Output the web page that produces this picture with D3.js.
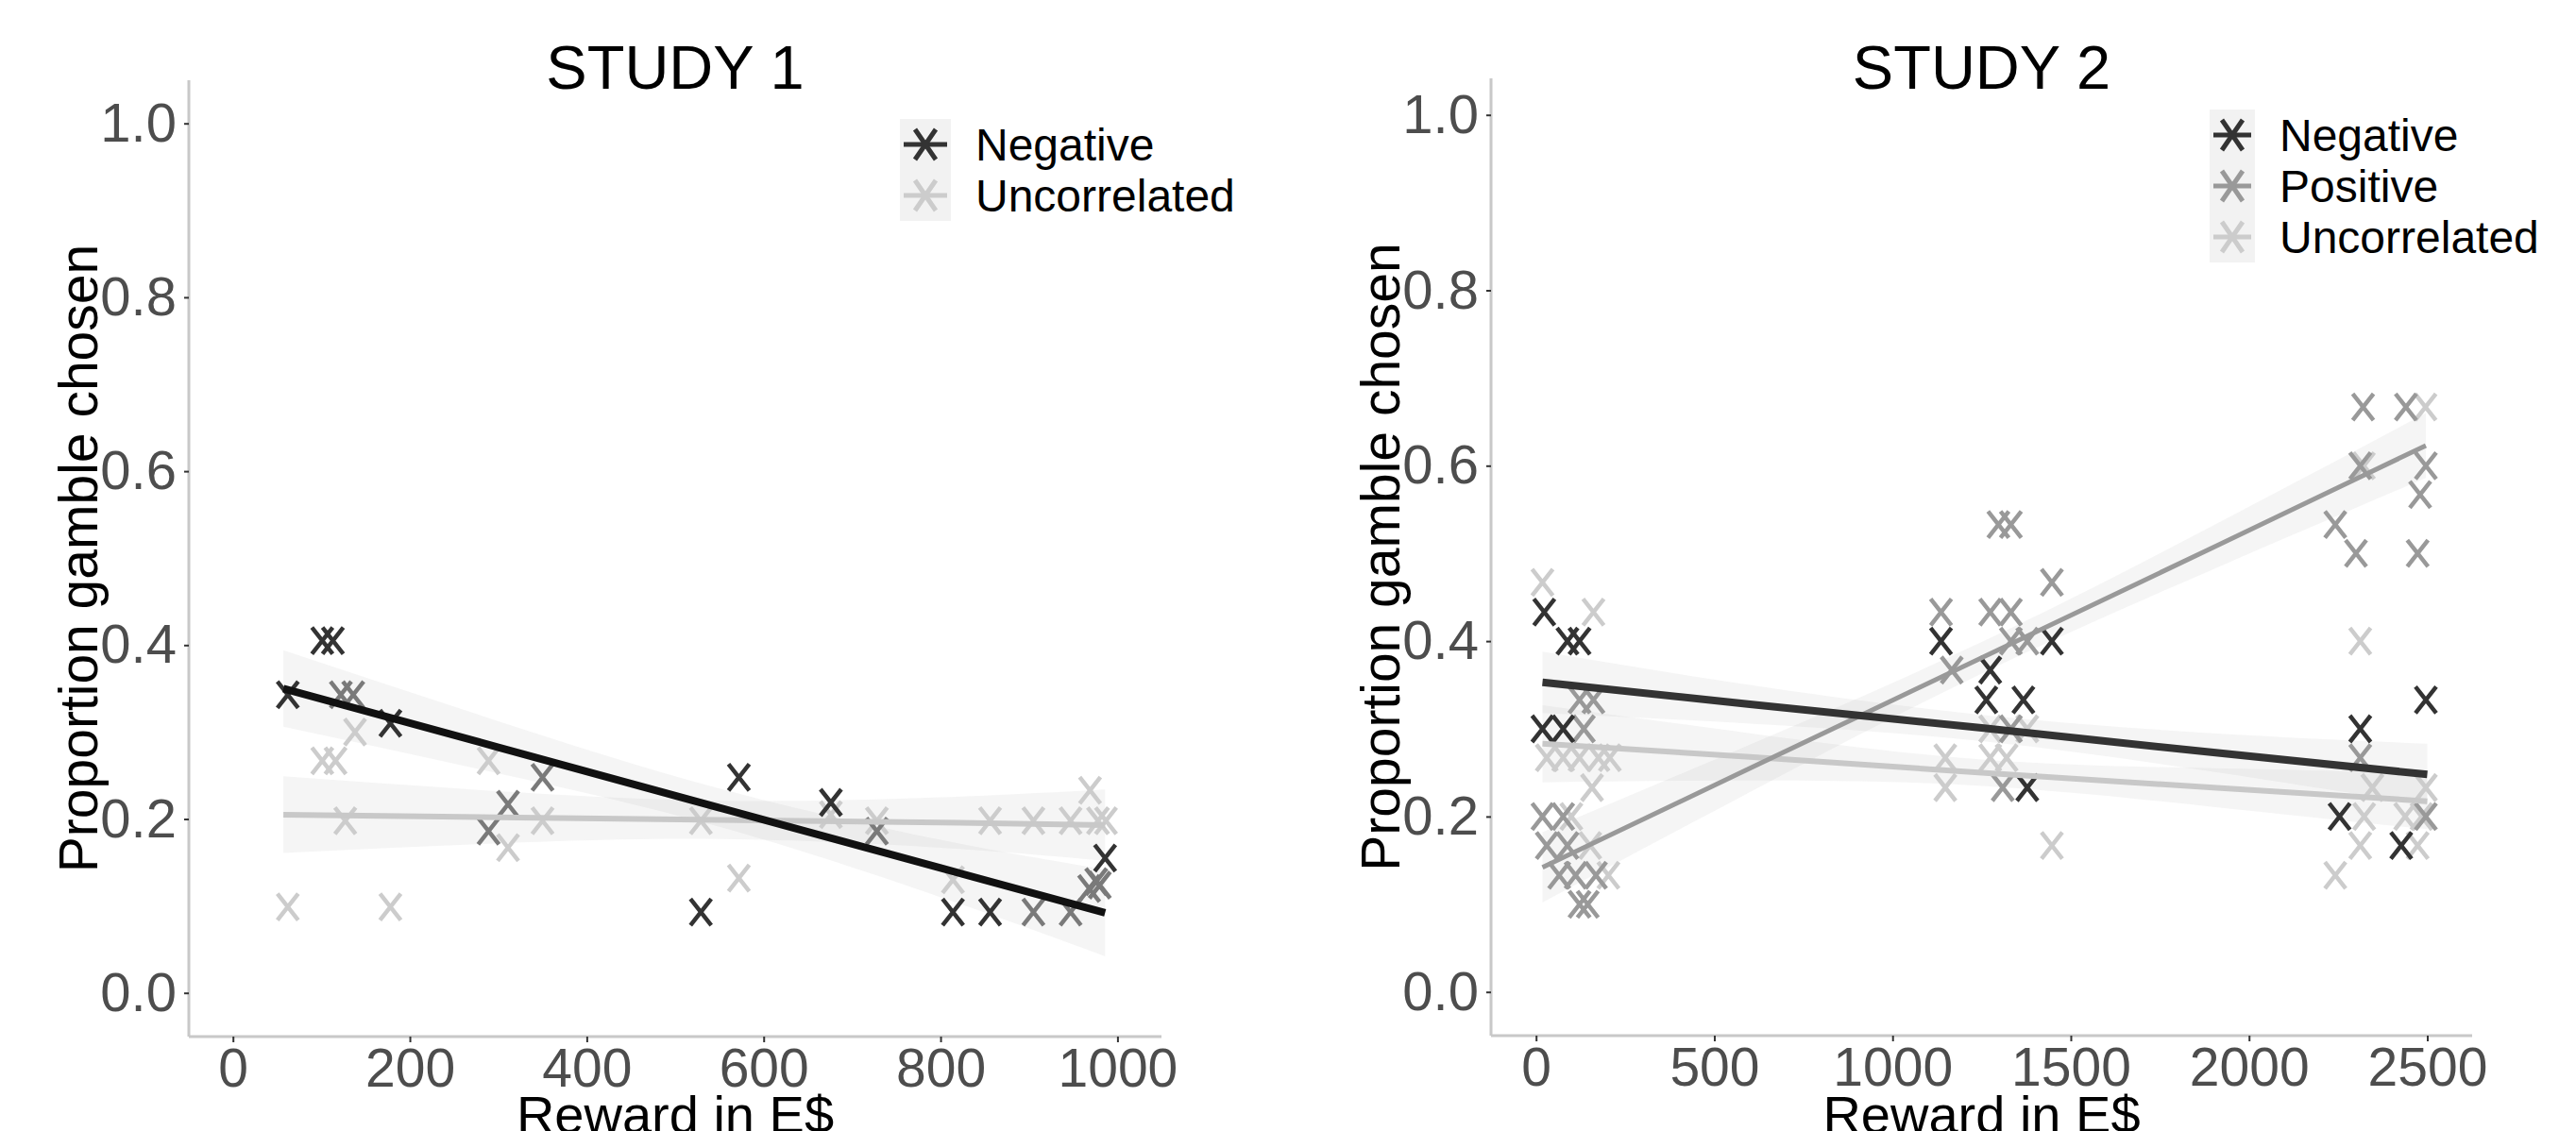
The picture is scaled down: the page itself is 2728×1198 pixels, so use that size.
<!DOCTYPE html>
<html>
<head>
<meta charset="utf-8">
<script src="https://cdn.jsdelivr.net/npm/d3@7"></script>
<style>
  body { margin: 0; background: #fff; }
  svg { display: block; font-family: "Liberation Sans", Arial, Helvetica, sans-serif; }
</style>
</head>
<body>
<svg id="chart" width="2728" height="1198"></svg>
<script>
// ---- data ----
var yTicks = [0, 0.2, 0.4, 0.6, 0.8, 1.0];
var xTicks1 = [0, 200, 400, 600, 800, 1000];
var xTicks2 = [0, 500, 1000, 1500, 2000, 2500];

var legend1 = ["Negative", "Uncorrelated"];
var legend2 = ["Negative", "Positive", "Uncorrelated"];

// study 1 points [reward, proportion]
var s1Negative = [[62,0.343],[101,0.405],[113,0.405],[178,0.31],[529,0.093],[572,0.248],[676,0.219],[814,0.093],[856,0.093],[986,0.155]];
var s1Mid = [[122,0.343],[136,0.343],[289,0.186],[311,0.217],[350,0.248],[728,0.186],[905,0.093],[947,0.093],[968,0.12],[976,0.128],[980,0.124]];
var s1Uncorrelated = [[62,0.099],[178,0.099],[101,0.267],[116,0.267],[138,0.300],[127,0.198],[289,0.267],[311,0.167],[350,0.198],[529,0.198],[572,0.132],[676,0.205],[728,0.198],[814,0.130],[856,0.198],[905,0.198],[947,0.198],[969,0.233],[978,0.198],[987,0.198]];

// study 2 points
var s2Negative = [[23,0.433],[88,0.4],[122,0.4],[18,0.3],[76,0.3],[1136,0.4],[1274,0.367],[1447,0.4],[1263,0.333],[1367,0.333],[1378,0.233],[2312,0.3],[2496,0.333],[2254,0.2],[2427,0.167]];
var s2Positive = [[122,0.333],[161,0.333],[134,0.3],[18,0.2],[76,0.2],[30,0.167],[88,0.167],[65,0.133],[111,0.133],[168,0.133],[122,0.1],[145,0.1],[1136,0.433],[1166,0.367],[1274,0.433],[1332,0.433],[1332,0.4],[1378,0.4],[1447,0.467],[1332,0.3],[1309,0.233],[1297,0.533],[1332,0.533],[2320,0.667],[2440,0.667],[2312,0.6],[2496,0.6],[2480,0.567],[2242,0.533],[2300,0.5],[2473,0.5],[2312,0.267],[2496,0.2]];
var s2Uncorrelated = [[18,0.467],[161,0.433],[30,0.267],[76,0.267],[122,0.267],[175,0.267],[207,0.267],[157,0.233],[99,0.2],[152,0.167],[203,0.133],[1274,0.3],[1378,0.3],[1148,0.267],[1274,0.267],[1320,0.267],[1148,0.233],[1447,0.167],[2312,0.4],[2495,0.667],[2322,0.6],[2346,0.233],[2496,0.233],[2323,0.2],[2438,0.2],[2484,0.2],[2312,0.167],[2473,0.167],[2242,0.133]];

// fitted lines with bands: [reward, fit, lower, upper]
var s1NegFit = [[57,0.350,0.306,0.394],[300,0.2825,0.2525,0.3125],[550,0.213,0.191,0.235],[800,0.1437,0.110,0.176],[986,0.092,0.042,0.142]];
var s1UncFit = [[57,0.205,0.161,0.249],[300,0.202,0.172,0.232],[550,0.199,0.177,0.221],[800,0.196,0.167,0.225],[986,0.193,0.152,0.234]];
var s2NegFit = [[18,0.353,0.318,0.388],[600,0.328,0.306,0.350],[1250,0.301,0.286,0.316],[1900,0.273,0.251,0.295],[2500,0.248,0.213,0.283]];
var s2PosFit = [[18,0.142,0.102,0.182],[600,0.255,0.228,0.282],[1250,0.381,0.363,0.399],[1900,0.507,0.482,0.532],[2496,0.623,0.586,0.660]];
var s2UncFit = [[18,0.283,0.239,0.327],[600,0.268,0.241,0.295],[1250,0.250,0.235,0.265],[1900,0.233,0.211,0.255],[2500,0.2175,0.1855,0.2495]];

var colNeg = "#333333", colMid = "#7a7a7a", colPos = "#999999", colUnc = "#cccccc";

var svg = d3.select("#chart");

function drawPanel(opt) {
    var x = d3.scaleLinear().domain(opt.xDomain).range(opt.xRange);
    var y = d3.scaleLinear().domain([0, 1]).range(opt.yRange);
    var g = svg.append("g");

    // axis lines
    g.append("line").attr("x1", opt.left).attr("x2", opt.left)
        .attr("y1", opt.top).attr("y2", opt.bottom)
        .attr("stroke", "#c8c8c8").attr("stroke-width", 3);
    g.append("line").attr("x1", opt.left).attr("x2", opt.right)
        .attr("y1", opt.bottom).attr("y2", opt.bottom)
        .attr("stroke", "#c8c8c8").attr("stroke-width", 3);

    // y axis
    var ya = g.append("g").attr("transform", "translate(" + opt.left + ",0)")
        .call(d3.axisLeft(y).tickValues(yTicks).tickFormat(d3.format(".1f")).tickSize(5).tickPadding(8));
    ya.select(".domain").remove();
    ya.selectAll(".tick line").attr("stroke", "#333").attr("stroke-width", 2);
    ya.selectAll(".tick text").attr("fill", "#4d4d4d").attr("font-size", "58px").attr("font-family", null);

    // x axis
    var xa = g.append("g").attr("transform", "translate(0," + opt.bottom + ")")
        .call(d3.axisBottom(x).tickValues(opt.xTicks).tickFormat(d3.format("d")).tickSize(6).tickPadding(7));
    xa.select(".domain").remove();
    xa.selectAll(".tick line").attr("stroke", "#333").attr("stroke-width", 2);
    xa.selectAll(".tick text").attr("fill", "#4d4d4d").attr("font-size", "57px").attr("font-family", null);

    // bands
    var area = d3.area().curve(d3.curveNatural)
        .x(function(d){ return x(d[0]); })
        .y0(function(d){ return y(d[2]); })
        .y1(function(d){ return y(d[3]); });
    opt.fits.forEach(function(f){
        g.append("path").datum(f.data).attr("d", area)
            .attr("fill", "#999").attr("fill-opacity", 0.1);
    });

    // points (x shape)
    var hw = 11, hh = 14;
    opt.points.forEach(function(p){
        g.selectAll(null).data(p.data).enter().append("path")
            .attr("d", function(d){
                var cx = x(d[0]), cy = y(d[1]);
                return "M" + (cx-hw) + "," + (cy-hh) + "L" + (cx+hw) + "," + (cy+hh) +
                       "M" + (cx-hw) + "," + (cy+hh) + "L" + (cx+hw) + "," + (cy-hh);
            })
            .attr("stroke", p.color).attr("stroke-width", 4.5).attr("fill", "none");
    });

    // fit lines
    var line = d3.line().x(function(d){ return x(d[0]); }).y(function(d){ return y(d[1]); });
    opt.fits.forEach(function(f){
        g.append("path").datum(f.data).attr("d", line)
            .attr("stroke", f.color).attr("stroke-width", f.width).attr("fill", "none");
    });

    // titles
    g.append("text").attr("x", (opt.left + opt.right) / 2).attr("y", 94)
        .attr("text-anchor", "middle").attr("font-size", "65px").attr("fill", "#000")
        .text(opt.title);
    g.append("text").attr("x", (opt.left + opt.right) / 2).attr("y", 1200)
        .attr("text-anchor", "middle").attr("font-size", "56px").attr("fill", "#000")
        .text("Reward in E$");
    g.append("text").attr("transform", "translate(" + (opt.left - 97) + "," + ((opt.top + opt.bottom) / 2) + ") rotate(-90)")
        .attr("text-anchor", "middle").attr("font-size", "57px").attr("fill", "#000")
        .text("Proportion gamble chosen");

    // legend
    var lg = g.append("g");
    opt.legend.forEach(function(name, i){
        var ky = opt.legendTop + i * 54;
        var c = opt.legendColors[i];
        lg.append("rect").attr("x", opt.legendLeft).attr("y", ky)
            .attr("width", opt.keyWidth).attr("height", 54).attr("fill", "#f2f2f2");
        var cx = opt.legendLeft + opt.keyWidth / 2, cy = ky + 27;
        lg.append("line").attr("x1", opt.legendLeft + 4).attr("x2", opt.legendLeft + opt.keyWidth - 4)
            .attr("y1", cy).attr("y2", cy).attr("stroke", c).attr("stroke-width", 5);
        lg.append("path")
            .attr("d", "M" + (cx-hw) + "," + (cy-hh-2) + "L" + (cx+hw) + "," + (cy+hh+2) +
                       "M" + (cx-hw) + "," + (cy+hh+2) + "L" + (cx+hw) + "," + (cy-hh-2))
            .attr("stroke", c).attr("stroke-width", 5).attr("fill", "none");
        lg.append("text").attr("x", opt.legendLeft + opt.keyWidth + 26).attr("y", cy)
            .attr("dy", "0.36em").attr("font-size", "48px").attr("fill", "#000").text(name);
    });
}

drawPanel({
    title: "STUDY 1",
    left: 200, right: 1230, top: 85, bottom: 1098,
    xDomain: [0, 1000], xRange: [246.7, 1183.4], yRange: [1051.7, 130.7],
    xTicks: xTicks1,
    points: [
        {data: s1Uncorrelated, color: colUnc},
        {data: s1Mid, color: colMid},
        {data: s1Negative, color: colNeg}
    ],
    fits: [
        {data: s1UncFit, color: "#c8c8c8", width: 6},
        {data: s1NegFit, color: "#111111", width: 8}
    ],
    legend: legend1, legendColors: [colNeg, colUnc],
    legendLeft: 953, legendTop: 126, keyWidth: 54
});

drawPanel({
    title: "STUDY 2",
    left: 1579, right: 2618, top: 83, bottom: 1097,
    xDomain: [0, 2500], xRange: [1626.7, 2570.5], yRange: [1050.7, 121.7],
    xTicks: xTicks2,
    points: [
        {data: s2Uncorrelated, color: colUnc},
        {data: s2Positive, color: colPos},
        {data: s2Negative, color: colNeg}
    ],
    fits: [
        {data: s2UncFit, color: "#c8c8c8", width: 6},
        {data: s2PosFit, color: "#999999", width: 5},
        {data: s2NegFit, color: "#333333", width: 8}
    ],
    legend: legend2, legendColors: [colNeg, colPos, colUnc],
    legendLeft: 2340, legendTop: 116, keyWidth: 48
});
</script>
</body>
</html>
